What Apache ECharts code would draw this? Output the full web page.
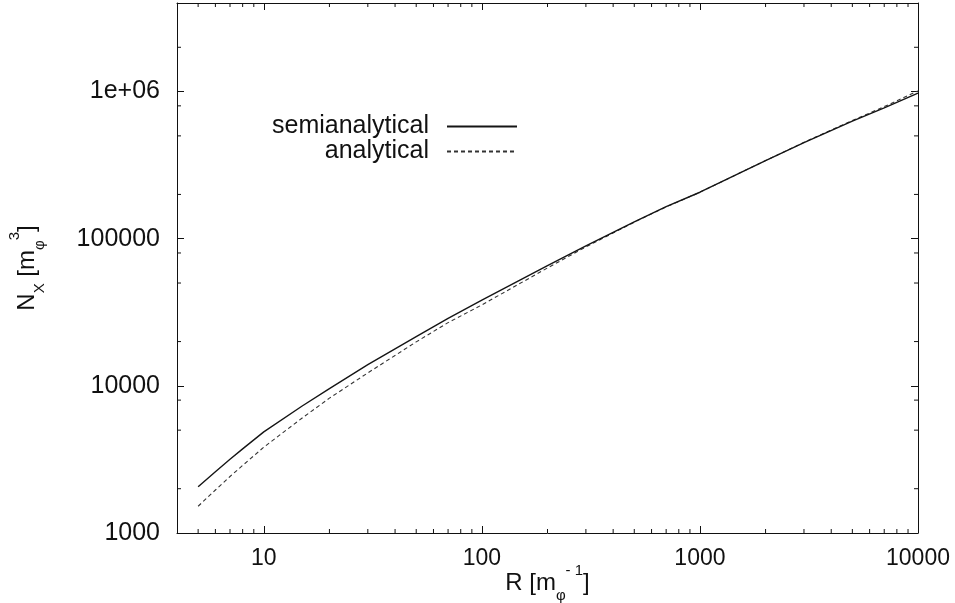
<!DOCTYPE html>
<html>
<head>
<meta charset="utf-8">
<script src="https://cdn.jsdelivr.net/npm/echarts@6/dist/echarts.min.js"></script>
<style>
html,body{margin:0;padding:0;background:#fff;}
#chart{width:955px;height:603px;}
</style>
</head>
<body>
<div id="chart"></div>
<script>
// Data
const R = [5, 6, 7, 8, 10, 15, 20, 30, 50, 70, 100, 200, 300, 500, 700, 1000, 2000, 3000, 5000, 7000, 10000];
const semianalytical = [2060, 2610, 3170, 3730, 4870, 7300, 9590, 13930, 21600, 28750, 38200, 65600, 89300, 130300, 165000, 207000, 340000, 450000, 630000, 775000, 975000];
const analytical = [1520, 1960, 2420, 2880, 3830, 6050, 8250, 12250, 19900, 26900, 35500, 63300, 88000, 129600, 164500, 207000, 340000, 452000, 636000, 790000, 1010000];
const seriesNames = ['semianalytical', 'analytical'];
const xMajorLabels = {10: '10', 100: '100', 1000: '1000', 10000: '10000'};
const yMajorLabels = {1000: '1000', 10000: '10000', 100000: '100000', 1000000: '1e+06'};
const xMinorTicks = [5, 6, 7, 8, 9, 20, 30, 40, 50, 60, 70, 80, 90, 200, 300, 400, 500, 600, 700, 800, 900,
  2000, 3000, 4000, 5000, 6000, 7000, 8000, 9000];
const yMinorTicks = [2000, 5000, 8000, 20000, 50000, 80000, 200000, 500000, 800000, 2000000];
const xRange = [4, 10000];
const yRange = [1000, 4000000];

const FONT = 'Liberation Sans, Arial, Helvetica, sans-serif';
const INK = '#111';

function isPow10(v) {
  const l = Math.log10(v);
  return Math.abs(l - Math.round(l)) < 1e-6;
}

const pairs = (ys) => R.map((r, i) => [r, ys[i]]);

const LH = 40;
const richName = {
  b: {fontSize: 24, fontFamily: FONT, color: INK, verticalAlign: 'middle', lineHeight: LH},
  sub: {fontSize: 15, fontFamily: FONT, color: INK, verticalAlign: 'bottom'},
  sup: {fontSize: 15, fontFamily: FONT, color: INK, verticalAlign: 'top'}
};

const baseAxis = {
  type: 'log',
  logBase: 10,
  axisLine: {show: true, onZero: false, lineStyle: {color: INK, width: 1}},
  axisTick: {show: true, inside: true, length: 7, lineStyle: {color: INK, width: 1}},
  splitLine: {show: false},
  minorTick: {show: false},
  minorSplitLine: {show: false}
};

const chart = echarts.init(document.getElementById('chart'), null, {renderer: 'canvas'});

chart.setOption({
  animation: false,
  backgroundColor: '#fff',
  grid: {left: 177, right: 37, top: 3, bottom: 70, containLabel: false, outerBoundsMode: 'none'},
  legend: {
    show: true,
    data: seriesNames,
    orient: 'vertical',
    align: 'right',
    right: 437,
    top: 114,
    padding: 0,
    itemWidth: 70,
    itemHeight: 14,
    itemGap: 0,
    itemStyle: {opacity: 0},
    textStyle: {fontSize: 25, fontFamily: FONT, color: INK, padding: [0, 13, 0, 0]}
  },
  xAxis: [
    Object.assign({}, baseAxis, {
      position: 'bottom', min: xRange[0], max: xRange[1],
      name: '{b|R [m}{sub|φ}{sup|- 1}{b|]}',
      nameLocation: 'middle', nameGap: 30, nameMoveOverlap: false,
      nameTextStyle: {fontSize: 24, fontFamily: FONT, color: INK, rich: richName},
      axisLabel: {
        show: true, margin: 14, fontSize: 23, fontFamily: FONT, color: INK,
        formatter: (v) => isPow10(v) && xMajorLabels[Math.round(v)] ? xMajorLabels[Math.round(v)] : ''
      }
    }),
    Object.assign({}, baseAxis, {
      position: 'top', min: xRange[0], max: xRange[1],
      axisLabel: {show: false}
    })
  ],
  yAxis: [
    Object.assign({}, baseAxis, {
      position: 'left', min: yRange[0], max: yRange[1],
      name: '{b|N}{sub|X}{b| [m}{sub|φ}{sup|3}{b|]}',
      nameLocation: 'middle', nameGap: 130, nameRotate: 90, nameMoveOverlap: false,
      nameTextStyle: {fontSize: 24, fontFamily: FONT, color: INK, rich: richName},
      axisLabel: {
        show: true, margin: 17, fontSize: 25, fontFamily: FONT, color: INK,
        formatter: (v) => isPow10(v) && yMajorLabels[Math.round(v)] ? yMajorLabels[Math.round(v)] : ''
      }
    }),
    Object.assign({}, baseAxis, {
      position: 'right', min: yRange[0], max: yRange[1],
      axisLabel: {show: false}
    })
  ],
  series: [
    {
      name: seriesNames[0], type: 'line', xAxisIndex: 0, yAxisIndex: 0,
      data: pairs(semianalytical), showSymbol: false, symbol: 'none',
      lineStyle: {color: '#151515', width: 1.4, type: 'solid'},
      itemStyle: {color: '#151515'}, z: 3
    },
    {
      name: seriesNames[1], type: 'line', xAxisIndex: 0, yAxisIndex: 0,
      data: pairs(analytical), showSymbol: false, symbol: 'none',
      lineStyle: {color: '#333', width: 1.1, type: [4, 3]},
      itemStyle: {color: '#333'}, z: 2
    },
    {
      name: 'xminor', type: 'custom', xAxisIndex: 0, yAxisIndex: 0, silent: true, clip: false,
      data: xMinorTicks.map(v => [v, yRange[0]]),
      renderItem: function (params, api) {
        const p = api.coord([api.value(0), api.value(1)]);
        const cs = params.coordSys;
        const st = {stroke: INK, lineWidth: 1};
        return {type: 'group', children: [
          {type: 'line', shape: {x1: p[0], y1: cs.y + cs.height, x2: p[0], y2: cs.y + cs.height - 4}, style: st},
          {type: 'line', shape: {x1: p[0], y1: cs.y, x2: p[0], y2: cs.y + 4}, style: st}
        ]};
      }
    },
    {
      name: 'yminor', type: 'custom', xAxisIndex: 0, yAxisIndex: 0, silent: true, clip: false,
      data: yMinorTicks.map(v => [xRange[0], v]),
      renderItem: function (params, api) {
        const p = api.coord([api.value(0), api.value(1)]);
        const cs = params.coordSys;
        const st = {stroke: INK, lineWidth: 1};
        return {type: 'group', children: [
          {type: 'line', shape: {x1: cs.x, y1: p[1], x2: cs.x + 4, y2: p[1]}, style: st},
          {type: 'line', shape: {x1: cs.x + cs.width, y1: p[1], x2: cs.x + cs.width - 4, y2: p[1]}, style: st}
        ]};
      }
    }
  ]
});
</script>
</body>
</html>
